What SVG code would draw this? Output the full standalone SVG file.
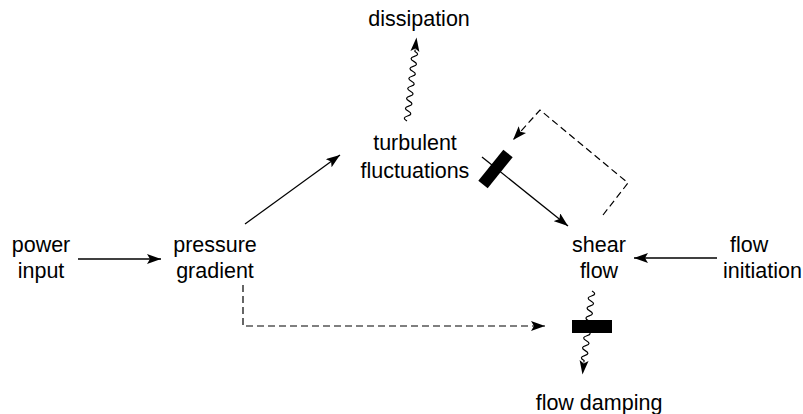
<svg xmlns="http://www.w3.org/2000/svg" width="803" height="414" viewBox="0 0 803 414">
<style>
text{font-family:"Liberation Sans",Arial,sans-serif;font-size:21.5px;fill:#000;text-anchor:middle}
.ln{fill:none;stroke:#000;stroke-width:1.3}
.ds{fill:none;stroke:#000;stroke-width:1.2;stroke-dasharray:7,4}
.wv{fill:none;stroke:#000;stroke-width:1.2}
.hd{fill:#000;stroke:none}
</style>
<defs>
<marker id="ah" viewBox="0 0 14 10" refX="14" refY="5" markerWidth="14" markerHeight="10" markerUnits="userSpaceOnUse" orient="auto">
<path d="M0,0 L14,5 L0,10 L3,5 z" fill="#000" stroke="none"/>
</marker>
</defs>
<rect width="803" height="414" fill="#fff"/>
<g id="dissipation"><text x="419" y="26">dissipation</text></g>
<g id="turbulent"><text x="415" y="150">turbulent</text><text x="415" y="178">fluctuations</text></g>
<g id="power"><text x="41" y="252">power</text><text x="41" y="278">input</text></g>
<g id="pressure"><text x="215" y="252">pressure</text><text x="215" y="278">gradient</text></g>
<g id="shear"><text x="599" y="252">shear</text><text x="599" y="278">flow</text></g>
<g id="initiation"><text x="730" y="252" style="text-anchor:start">flow</text><text x="723" y="278" style="text-anchor:start">initiation</text></g>
<g id="damping"><text x="599" y="410">flow damping</text></g>
<g id="connectors">
<path class="ln" d="M78,259 H161" marker-end="url(#ah)"/>
<path class="ln" d="M717,258 H634" marker-end="url(#ah)"/>
<path class="ln" d="M245,224 L340,155" marker-end="url(#ah)"/>
<path class="ln" d="M482,157 L568,226" marker-end="url(#ah)"/>
<path class="ds" d="M243,285 V326 H545" marker-end="url(#ah)"/>
<path class="ds" d="M603,215 L628,183 L540,110 L513,140" marker-end="url(#ah)"/>
<g transform="translate(407,121) rotate(6.5)">
<path class="wv" d="M0,0 q-6,-2.5 0,-5 t0,-5 t0,-5 t0,-5 t0,-5 t0,-5 t0,-5 t0,-5 t0,-5 t0,-5 t0,-5 t0,-5 t0,-5 t0,-5 v-2"/>
<path class="hd" d="M0,-84 L4.5,-70 L0,-73 L-4.5,-70 z"/>
</g>
<g transform="translate(592,291) rotate(6.5)">
<path class="wv" d="M0,0 q6,2.5 0,5 t0,5 t0,5 t0,5 t0,5 t0,5 t0,5 t0,5 t0,5 t0,5 t0,5 t0,5 t0,5 t0,5 v2"/>
<path class="hd" d="M0,84 L4.5,70 L0,73 L-4.5,70 z"/>
</g>
<rect x="572" y="320" width="40" height="13" fill="#000"/>
<rect x="-6" y="-20" width="12" height="40" fill="#000" transform="translate(495.5,169) rotate(38.7)"/>
</g>
</svg>
